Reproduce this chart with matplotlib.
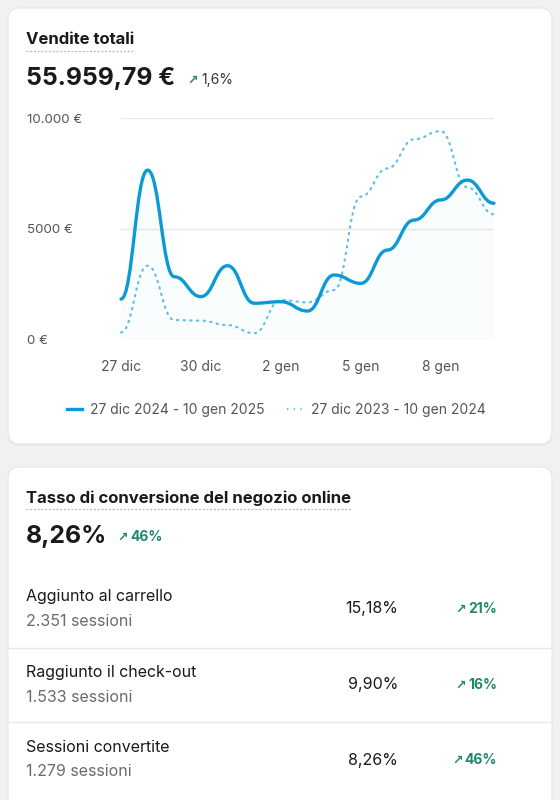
import matplotlib
matplotlib.use('Agg')
import matplotlib.pyplot as plt
from matplotlib.path import Path
from matplotlib.patches import PathPatch, FancyBboxPatch
from matplotlib.lines import Line2D

plt.rcParams['font.family'] = ['Inter', 'DejaVu Sans']

# dati
giorni = list(range(15))
tick_pos = [0, 3, 6, 9, 12]
tick_lab = ['27 dic', '30 dic', '2 gen', '5 gen', '8 gen']
vendite_2025 = [1810, 7650, 2820, 1920, 3320, 1620, 1690, 1270, 2900, 2520, 4030, 5390, 6300, 7200, 6150]
vendite_2024 = [300, 3320, 860, 830, 630, 260, 1770, 1660, 2220, 6450, 7730, 9050, 9420, 6870, 5650]
y_ticks = [0, 5000, 10000]
y_labs = ['0 €', '5000 €', '10.000 €']
legenda = ['27 dic 2024 - 10 gen 2025', '27 dic 2023 - 10 gen 2024']

righe = ['Aggiunto al carrello', 'Raggiunto il check-out', 'Sessioni convertite']
sessioni = ['2.351 sessioni', '1.533 sessioni', '1.279 sessioni']
tassi = ['15,18%', '9,90%', '8,26%']
variazioni = ['21%', '16%', '46%']

BLU = '#0c9ad6'
BLU_CHIARO = '#62bfe6'
VERDE = '#1d8a6b'
GRIGIO = '#6b6b6b'
NERO = '#1a1a1a'


def curva(xs, ys, k=0.45, chiudi=False):
    # bezier con tangenti orizzontali su ogni punto
    verts = [(xs[0], ys[0])]
    codes = [Path.MOVETO]
    for i in range(len(xs) - 1):
        dx = xs[i + 1] - xs[i]
        verts += [(xs[i] + k * dx, ys[i]), (xs[i + 1] - k * dx, ys[i + 1]), (xs[i + 1], ys[i + 1])]
        codes += [Path.CURVE4] * 3
    if chiudi:
        verts += [(xs[-1], 0), (xs[0], 0), (xs[0], ys[0])]
        codes += [Path.LINETO, Path.LINETO, Path.CLOSEPOLY]
    return Path(verts, codes)


fig = plt.figure(figsize=(5.6, 8), dpi=100)
fig.patch.set_facecolor('#f1f1f1')

bg = fig.add_axes([0, 0, 1, 1])
bg.set_xlim(0, 560)
bg.set_ylim(800, 0)
bg.axis('off')

for (y0, y1) in [(8, 444), (467, 840)]:
    bg.add_patch(FancyBboxPatch((8, y0 + 1.5), 544, y1 - y0, boxstyle='round,pad=0,rounding_size=12',
                                facecolor='#e2e2e2', edgecolor='none', zorder=1))
    bg.add_patch(FancyBboxPatch((8, y0), 544, y1 - y0, boxstyle='round,pad=0,rounding_size=12',
                                facecolor='white', edgecolor='#e6e6e6', lw=0.8, zorder=2))

renderer = fig.canvas.get_renderer()


def larghezza(t):
    return t.get_window_extent(renderer).width


def titolo(x, y, s):
    t = bg.text(x, y, s, fontsize=12, fontweight='bold', color=NERO, va='center', ha='left', zorder=5)
    w = larghezza(t)
    bg.plot([x, x + w], [y + 11, y + 11], color='#b5b5b5', lw=0.9, ls=(0, (1.5, 1.5)), zorder=5)


def freccia(x, y, ha='left'):
    return bg.text(x, y, '↗', fontsize=9, fontweight='bold', color=VERDE, va='center', ha=ha, zorder=5,
                   family=['DejaVu Sans'])


# card 1
titolo(26, 40, 'Vendite totali')
t = bg.text(26, 79, '55.959,79 €', fontsize=17.8, fontweight='bold', color=NERO, va='center', ha='left', zorder=5)
xa = 26 + larghezza(t) + 12
freccia(xa, 80)
bg.text(xa + 14, 80, '1,6%', fontsize=10, color='#333333', va='center', ha='left', zorder=5)

ax = fig.add_axes([121 / 560, 1 - 339 / 800, 373 / 560, (339 - 118.3) / 800])
ax.set_facecolor('none')
ax.set_xlim(0, 14)
ax.set_ylim(0, 10000)
for s in ax.spines.values():
    s.set_visible(False)
ax.set_yticks(y_ticks)
ax.set_yticklabels(y_labs)
ax.set_xticks(tick_pos)
ax.set_xticklabels(tick_lab)
ax.tick_params(axis='y', length=0, pad=94 * 0.72, labelsize=9.6, labelcolor='#555555')
ax.tick_params(axis='x', length=0, pad=15, labelsize=10, labelcolor='#555555')
for lab in ax.get_yticklabels():
    lab.set_horizontalalignment('left')
ax.grid(axis='y', color='#e8e8e8', lw=1)
ax.set_axisbelow(True)

ax.add_patch(PathPatch(curva(giorni, vendite_2025, chiudi=True), facecolor=BLU, alpha=0.018,
                       edgecolor='none', zorder=2))
ax.add_patch(PathPatch(curva(giorni, vendite_2024), facecolor='none', edgecolor=BLU_CHIARO, lw=1.6,
                       ls=(0, (0.6, 2.4)), capstyle='round', zorder=3, clip_on=False))
ax.add_patch(PathPatch(curva(giorni, vendite_2025), facecolor='none', edgecolor=BLU, lw=2.4,
                       capstyle='round', zorder=4, clip_on=False))

handles = [Line2D([], [], color=BLU, lw=2.4),
           Line2D([], [], color=BLU_CHIARO, lw=1.6, ls=(0, (0.6, 2.4)))]
fig.legend(handles, legenda, loc='center', bbox_to_anchor=(276 / 560, 1 - 410 / 800), ncol=2,
           frameon=False, fontsize=10, labelcolor='#555555', handlelength=1.1, handletextpad=0.6,
           columnspacing=1.6)

# card 2
titolo(26, 498, 'Tasso di conversione del negozio online')
t = bg.text(26, 537, '8,26%', fontsize=17.8, fontweight='bold', color=NERO, va='center', ha='left', zorder=5)
xa = 26 + larghezza(t) + 10
freccia(xa, 537)
bg.text(xa + 13, 537, '46%', fontsize=10, fontweight='bold', color=VERDE, va='center', ha='left', zorder=5)

for i, y in enumerate([596, 672, 747]):
    bg.text(26, y, righe[i], fontsize=11.5, color=NERO, va='center', ha='left', zorder=5)
    bg.text(26, y + 25, sessioni[i], fontsize=11.5, color=GRIGIO, va='center', ha='left', zorder=5)
    bg.text(398, y + 13, tassi[i], fontsize=11.5, color=NERO, va='center', ha='right', zorder=5)
    t = bg.text(497, y + 13, variazioni[i], fontsize=10, fontweight='bold', color=VERDE, va='center',
                ha='right', zorder=5)
    freccia(497 - larghezza(t) - 2, y + 13, ha='right')
for y in [648, 722]:
    bg.plot([8, 552], [y, y], color='#e6e6e6', lw=1, zorder=4)

fig.savefig('out.png', dpi=100, facecolor=fig.get_facecolor())
